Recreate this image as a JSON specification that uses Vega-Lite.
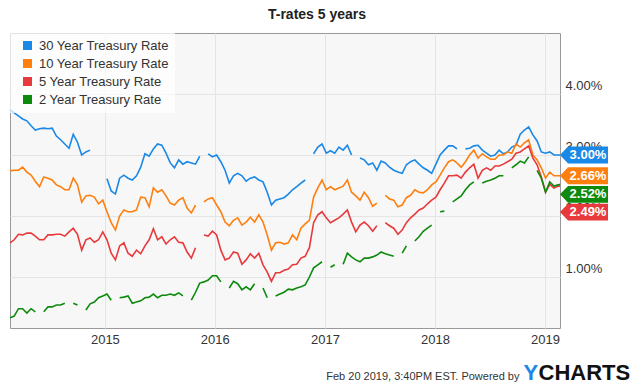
{
  "$schema": "https://vega.github.io/schema/vega-lite/v6.json",
  "width": 550,
  "height": 295,
  "autosize": {"type": "none"},
  "padding": {"left": 10, "top": 33, "right": 75, "bottom": 61},
  "background": "white",
  "title": {"text": "T-rates 5 years", "fontSize": 14, "fontWeight": "bold", "font": "Liberation Sans", "color": "#222", "anchor": "middle", "dx": 32, "dy": 10, "offset": 10, "baseline": "alphabetic"},
  "config": {
    "font": "Liberation Sans",
    "view": {"fill": "#f7f7f7", "stroke": "#999", "strokeWidth": 1}
  },
  "datasets": {
    "main": [
      {"d":"2014-02-20","a":3.74,"b":2.74,"c":1.56,"g":0.33},
      {"d":"2014-03-06","a":3.69,"b":2.75,"c":1.61,"g":0.36},
      {"d":"2014-03-20","a":3.64,"b":2.75,"c":1.70,"g":0.48},
      {"d":"2014-04-03","a":3.59,"b":2.80,"c":1.69,"g":0.48},
      {"d":"2014-04-17","a":3.56,"b":2.72,"c":1.72,"g":0.41},
      {"d":"2014-05-01","a":3.48,"b":2.67,"c":1.72,"g":0.48},
      {"d":"2014-05-15","a":3.41,"b":2.57,"c":1.67,"g":0.43},
      {"d":"2014-05-29","a":3.43,"b":2.48,"c":1.61,"g":null},
      {"d":"2014-06-12","a":3.44,"b":2.64,"c":1.61,"g":0.43},
      {"d":"2014-06-26","a":3.43,"b":2.62,"c":1.69,"g":0.51},
      {"d":"2014-07-10","a":3.44,"b":2.59,"c":1.69,"g":0.51},
      {"d":"2014-07-24","a":3.31,"b":2.51,"c":1.70,"g":0.54},
      {"d":"2014-08-07","a":3.25,"b":2.48,"c":1.70,"g":0.54},
      {"d":"2014-08-21","a":3.18,"b":2.43,"c":1.67,"g":0.57},
      {"d":"2014-09-04","a":3.11,"b":2.43,"c":1.74,"g":null},
      {"d":"2014-09-18","a":3.34,"b":2.62,"c":1.80,"g":0.57},
      {"d":"2014-10-02","a":3.21,"b":2.51,"c":1.70,"g":0.54},
      {"d":"2014-10-16","a":3.00,"b":2.23,"c":1.44,"g":null},
      {"d":"2014-10-30","a":3.05,"b":2.33,"c":1.61,"g":0.46},
      {"d":"2014-11-13","a":3.08,"b":2.34,"c":1.64,"g":0.56},
      {"d":"2014-11-27","a":null,"b":2.31,"c":1.57,"g":0.59},
      {"d":"2014-12-11","a":2.90,"b":2.20,"c":1.61,"g":0.66},
      {"d":"2014-12-25","a":null,"b":2.26,"c":1.74,"g":0.69},
      {"d":"2015-01-08","a":2.61,"b":2.07,"c":1.61,"g":0.72},
      {"d":"2015-01-22","a":2.41,"b":1.89,"c":1.39,"g":0.62},
      {"d":"2015-02-05","a":2.36,"b":1.77,"c":1.28,"g":null},
      {"d":"2015-02-19","a":2.62,"b":2.00,"c":1.51,"g":0.66},
      {"d":"2015-03-05","a":2.67,"b":2.10,"c":1.56,"g":0.67},
      {"d":"2015-03-19","a":2.62,"b":2.07,"c":1.39,"g":0.69},
      {"d":"2015-04-02","a":2.59,"b":2.07,"c":1.34,"g":0.57},
      {"d":"2015-04-16","a":2.66,"b":2.10,"c":1.44,"g":0.59},
      {"d":"2015-04-30","a":2.80,"b":2.31,"c":1.38,"g":0.61},
      {"d":"2015-05-14","a":3.02,"b":2.30,"c":1.51,"g":0.66},
      {"d":"2015-05-28","a":2.98,"b":2.15,"c":1.61,"g":0.67},
      {"d":"2015-06-11","a":3.10,"b":2.46,"c":1.79,"g":0.72},
      {"d":"2015-06-25","a":3.18,"b":2.39,"c":1.61,"g":0.66},
      {"d":"2015-07-09","a":3.16,"b":2.43,"c":1.66,"g":0.70},
      {"d":"2015-07-23","a":3.03,"b":2.33,"c":1.54,"g":0.70},
      {"d":"2015-08-06","a":2.87,"b":2.21,"c":1.61,"g":0.72},
      {"d":"2015-08-20","a":2.79,"b":2.18,"c":1.66,"g":0.70},
      {"d":"2015-09-03","a":2.92,"b":2.26,"c":1.57,"g":0.74},
      {"d":"2015-09-17","a":2.85,"b":2.30,"c":1.56,"g":0.69},
      {"d":"2015-10-01","a":2.89,"b":2.13,"c":1.41,"g":null},
      {"d":"2015-10-15","a":2.87,"b":2.05,"c":1.31,"g":0.62},
      {"d":"2015-10-29","a":2.85,"b":2.18,"c":1.48,"g":0.75},
      {"d":"2015-11-12","a":2.98,"b":null,"c":null,"g":0.90},
      {"d":"2015-11-26","a":null,"b":2.23,"c":1.69,"g":0.92},
      {"d":"2015-12-10","a":3.02,"b":2.28,"c":1.67,"g":0.95},
      {"d":"2015-12-24","a":2.97,"b":2.30,"c":1.75,"g":1.02},
      {"d":"2016-01-07","a":3.00,"b":2.18,"c":1.69,"g":1.02},
      {"d":"2016-01-21","a":2.89,"b":2.07,"c":1.44,"g":0.92},
      {"d":"2016-02-04","a":2.75,"b":1.90,"c":1.28,"g":null},
      {"d":"2016-02-18","a":2.54,"b":1.84,"c":1.31,"g":0.82},
      {"d":"2016-03-03","a":2.66,"b":1.93,"c":1.41,"g":0.93},
      {"d":"2016-03-17","a":2.70,"b":1.97,"c":1.39,"g":0.89},
      {"d":"2016-03-31","a":2.66,"b":1.85,"c":1.21,"g":0.79},
      {"d":"2016-04-14","a":2.57,"b":1.90,"c":1.28,"g":0.84},
      {"d":"2016-04-28","a":2.62,"b":1.98,"c":1.38,"g":0.79},
      {"d":"2016-05-12","a":2.64,"b":1.90,"c":1.31,"g":0.89},
      {"d":"2016-05-26","a":2.59,"b":2.02,"c":1.39,"g":null},
      {"d":"2016-06-09","a":2.56,"b":1.90,"c":1.20,"g":0.82},
      {"d":"2016-06-23","a":2.39,"b":1.69,"c":1.08,"g":0.66},
      {"d":"2016-07-07","a":2.18,"b":1.44,"c":0.93,"g":null},
      {"d":"2016-07-21","a":2.26,"b":1.56,"c":1.07,"g":0.69},
      {"d":"2016-08-04","a":2.28,"b":1.57,"c":1.07,"g":0.72},
      {"d":"2016-08-18","a":2.30,"b":1.54,"c":1.11,"g":0.75},
      {"d":"2016-09-01","a":2.36,"b":1.56,"c":1.13,"g":0.80},
      {"d":"2016-09-15","a":2.43,"b":1.69,"c":1.20,"g":0.79},
      {"d":"2016-09-29","a":2.48,"b":1.61,"c":1.21,"g":0.82},
      {"d":"2016-10-13","a":2.54,"b":1.80,"c":1.31,"g":0.84},
      {"d":"2016-10-27","a":2.59,"b":1.87,"c":1.34,"g":0.87},
      {"d":"2016-11-10","a":null,"b":1.93,"c":1.48,"g":1.00},
      {"d":"2016-11-24","a":3.02,"b":2.31,"c":1.89,"g":1.15},
      {"d":"2016-12-08","a":3.13,"b":2.46,"c":2.02,"g":1.20},
      {"d":"2016-12-22","a":3.18,"b":2.59,"c":2.07,"g":1.25},
      {"d":"2017-01-05","a":3.03,"b":2.43,"c":1.97,"g":null},
      {"d":"2017-01-19","a":3.07,"b":2.48,"c":1.89,"g":1.16},
      {"d":"2017-02-02","a":3.03,"b":2.43,"c":1.93,"g":1.20},
      {"d":"2017-02-16","a":3.13,"b":2.46,"c":1.97,"g":null},
      {"d":"2017-03-02","a":3.08,"b":2.49,"c":2.03,"g":1.21},
      {"d":"2017-03-16","a":3.16,"b":2.59,"c":2.10,"g":1.39},
      {"d":"2017-03-30","a":3.00,"b":2.39,"c":1.90,"g":1.33},
      {"d":"2017-04-13","a":null,"b":2.33,"c":1.74,"g":1.28},
      {"d":"2017-04-27","a":2.95,"b":2.26,"c":1.85,"g":1.25},
      {"d":"2017-05-11","a":2.92,"b":2.39,"c":1.90,"g":1.31},
      {"d":"2017-05-25","a":2.84,"b":2.30,"c":1.84,"g":1.31},
      {"d":"2017-06-08","a":2.87,"b":2.16,"c":1.75,"g":1.33},
      {"d":"2017-06-22","a":2.75,"b":2.21,"c":1.84,"g":1.36},
      {"d":"2017-07-06","a":2.90,"b":null,"c":null,"g":1.41},
      {"d":"2017-07-20","a":2.87,"b":2.34,"c":1.89,"g":1.38},
      {"d":"2017-08-03","a":2.80,"b":2.28,"c":1.84,"g":1.36},
      {"d":"2017-08-17","a":2.75,"b":2.26,"c":1.80,"g":1.34},
      {"d":"2017-08-31","a":2.72,"b":2.15,"c":1.70,"g":null},
      {"d":"2017-09-14","a":2.70,"b":2.18,"c":1.77,"g":1.39},
      {"d":"2017-09-28","a":2.84,"b":2.30,"c":1.89,"g":1.51},
      {"d":"2017-10-12","a":2.89,"b":2.34,"c":1.97,"g":null},
      {"d":"2017-10-26","a":2.92,"b":2.43,"c":2.03,"g":1.59},
      {"d":"2017-11-09","a":2.85,"b":2.39,"c":2.10,"g":1.66},
      {"d":"2017-11-23","a":2.79,"b":2.38,"c":2.13,"g":1.75},
      {"d":"2017-12-07","a":2.75,"b":2.43,"c":2.20,"g":1.80},
      {"d":"2017-12-21","a":2.70,"b":2.51,"c":2.26,"g":1.85},
      {"d":"2018-01-04","a":2.85,"b":2.56,"c":2.31,"g":null},
      {"d":"2018-01-18","a":3.00,"b":2.67,"c":2.43,"g":2.07},
      {"d":"2018-02-01","a":3.08,"b":2.79,"c":2.54,"g":2.08},
      {"d":"2018-02-15","a":3.15,"b":2.89,"c":2.66,"g":null},
      {"d":"2018-03-01","a":3.15,"b":2.92,"c":2.66,"g":2.23},
      {"d":"2018-03-15","a":3.10,"b":2.87,"c":2.67,"g":2.28},
      {"d":"2018-03-29","a":null,"b":2.80,"c":2.62,"g":2.33},
      {"d":"2018-04-12","a":3.10,"b":2.89,"c":2.72,"g":2.43},
      {"d":"2018-04-26","a":3.11,"b":3.00,"c":2.79,"g":2.51},
      {"d":"2018-05-10","a":3.15,"b":3.08,"c":2.85,"g":2.56},
      {"d":"2018-05-24","a":3.16,"b":2.95,"c":2.62,"g":null},
      {"d":"2018-06-07","a":3.08,"b":3.02,"c":2.75,"g":2.54},
      {"d":"2018-06-21","a":3.03,"b":2.97,"c":2.79,"g":2.57},
      {"d":"2018-07-05","a":2.98,"b":2.93,"c":2.75,"g":2.59},
      {"d":"2018-07-19","a":3.00,"b":2.93,"c":2.82,"g":2.62},
      {"d":"2018-08-02","a":3.08,"b":3.00,"c":2.82,"g":2.66},
      {"d":"2018-08-16","a":3.02,"b":3.00,"c":2.85,"g":2.66},
      {"d":"2018-08-30","a":3.05,"b":3.05,"c":2.89,"g":null},
      {"d":"2018-09-13","a":3.13,"b":3.03,"c":2.93,"g":2.79},
      {"d":"2018-09-27","a":3.16,"b":3.18,"c":3.03,"g":2.84},
      {"d":"2018-10-11","a":3.34,"b":3.13,"c":3.05,"g":2.90},
      {"d":"2018-10-25","a":3.41,"b":3.20,"c":3.10,"g":2.87},
      {"d":"2018-11-08","a":3.46,"b":3.25,"c":3.15,"g":2.97},
      {"d":"2018-11-22","a":3.33,"b":3.00,"c":2.95,"g":null},
      {"d":"2018-12-06","a":3.23,"b":2.92,"c":2.84,"g":2.75},
      {"d":"2018-12-20","a":3.05,"b":2.79,"c":2.64,"g":2.62},
      {"d":"2019-01-03","a":3.03,"b":2.62,"c":2.39,"g":2.39},
      {"d":"2019-01-17","a":3.05,"b":2.72,"c":2.52,"g":2.56},
      {"d":"2019-01-31","a":3.00,"b":2.66,"c":2.46,"g":2.49},
      {"d":"2019-02-14","a":3.00,"b":2.66,"c":2.49,"g":2.51},
      {"d":"2019-02-20","a":3.00,"b":2.66,"c":2.49,"g":2.52}
    ],
    "last": [
      {"s":"a","d":"2019-02-20","v":3.00},
      {"s":"b","d":"2019-02-20","v":2.66},
      {"s":"g","d":"2019-02-20","v":2.52},
      {"s":"c","d":"2019-02-20","v":2.49}
    ]
  },
  "resolve": {"scale": {"y": "independent"}, "axis": {"y": "independent"}},
  "layer": [
    {
      "data": {"name": "main"},
      "transform": [{"fold": ["a", "b", "c", "g"], "as": ["s", "v"]}],
      "mark": {"type": "line", "strokeWidth": 1.6, "invalid": "break-paths-show-domains"},
      "encoding": {
        "x": {
          "field": "d", "type": "temporal",
          "scale": {"type": "utc", "domain": [{"year": 2014, "month": 2, "date": 20, "utc": true}, {"year": 2019, "month": 2, "date": 20, "utc": true}]},
          "axis": {
            "values": [{"year": 2015, "month": 1, "date": 1, "utc": true}, {"year": 2016, "month": 1, "date": 1, "utc": true}, {"year": 2017, "month": 1, "date": 1, "utc": true}, {"year": 2018, "month": 1, "date": 1, "utc": true}, {"year": 2019, "month": 1, "date": 1, "utc": true}],
            "format": "%Y", "labelFontSize": 13, "labelColor": "#333", "labelPadding": 5, "ticks": false, "domain": false,
            "grid": true, "gridColor": "#e4e4e4",
            "title": "Feb 20 2019, 3:40PM EST.  Powered by", "titleFont": "Liberation Sans", "titleFontSize": 11, "titleFontWeight": "normal", "titleColor": "#333",
            "titleAlign": "right", "titleBaseline": "alphabetic", "titleX": 509, "titleY": 51
          }
        },
        "y": {
          "field": "v", "type": "quantitative",
          "scale": {"domain": [0.164, 5.0], "nice": false, "zero": false},
          "axis": {
            "orient": "right", "values": [1, 2, 3, 4], "labelExpr": "format(datum.value, '.2f') + '%'",
            "labelFontSize": 13, "labelColor": "#333", "labelPadding": 5, "labelOffset": -9, "labelBaseline": "middle",
            "ticks": false, "domain": false, "grid": true, "gridColor": "#e4e4e4",
            "title": "CHARTS", "titleAngle": 0, "titleAlign": "left", "titleBaseline": "alphabetic", "titleX": -22, "titleY": 346,
            "titleFontSize": 22, "titleFontWeight": "bold", "titleColor": "#111", "titleFont": "Liberation Sans"
          }
        },
        "color": {
          "field": "s", "type": "nominal",
          "scale": {"domain": ["a", "b", "c", "g"], "range": ["#1a88e6", "#ff7f0e", "#e8393c", "#0d8a0d"]},
          "legend": {
            "orient": "top-left", "offset": 0, "padding": 6, "title": null,
            "fillColor": "rgba(255,255,255,0.7)", "strokeColor": null,
            "symbolType": "square", "symbolSize": 81, "symbolStrokeWidth": 0, "symbolOpacity": 1, "symbolOffset": 5,
            "labelFontSize": 13, "labelColor": "#333", "labelFont": "Liberation Sans", "labelOffset": 5, "rowPadding": 4,
            "labelExpr": "datum.label == 'a' ? '30 Year Treasury Rate' : datum.label == 'b' ? '10 Year Treasury Rate' : datum.label == 'c' ? '5 Year Treasury Rate' : '2 Year Treasury Rate'"
          }
        }
      }
    },
    {
      "data": {"name": "last"},
      "transform": [{"filter": "datum.s == 'a' || datum.s == 'b'"}, {"calculate": "format(datum.v, '.2f') + '%'", "as": "lbl"}],
      "encoding": {
        "x": {"field": "d", "type": "temporal"},
        "y": {
          "field": "v", "type": "quantitative",
          "scale": {"domain": [0.164, 5.0], "nice": false, "zero": false},
          "axis": {
            "orient": "left", "labels": false, "ticks": false, "domain": false, "grid": false,
            "title": "Y", "titleAngle": 0, "titleAlign": "left", "titleBaseline": "alphabetic", "titleX": 513, "titleY": 346,
            "titleFontSize": 22, "titleFontWeight": "bold", "titleColor": "#1a88e6", "titleFont": "Liberation Sans"
          }
        },
        "color": {"field": "s", "type": "nominal", "legend": null}
      },
      "layer": [
        {"mark": {"type": "point", "shape": "M0,0L0.67,-0.7L4,-0.7L4,0.7L0.67,0.7Z", "size": 576, "filled": true, "opacity": 1, "strokeWidth": 0}},
        {"mark": {"type": "text", "dx": 28, "align": "center", "baseline": "middle", "fontSize": 13, "fontWeight": "bold"}, "encoding": {"text": {"field": "lbl"}, "color": {"value": "white"}}}
      ]
    },
    {
      "data": {"name": "last"},
      "transform": [{"filter": "datum.s == 'g'"}, {"calculate": "format(datum.v, '.2f') + '%'", "as": "lbl"}],
      "encoding": {
        "x": {"field": "d", "type": "temporal"},
        "y": {"field": "v", "type": "quantitative", "scale": {"domain": [0.164, 5.0], "nice": false, "zero": false}, "axis": null},
        "color": {"field": "s", "type": "nominal", "legend": null}
      },
      "layer": [
        {"mark": {"type": "point", "shape": "M0,0L0.67,-0.7L4,-0.7L4,0.7L0.67,0.7Z", "size": 576, "filled": true, "opacity": 1, "strokeWidth": 0, "yOffset": 10}},
        {"mark": {"type": "text", "dx": 28, "dy": 10, "align": "center", "baseline": "middle", "fontSize": 13, "fontWeight": "bold"}, "encoding": {"text": {"field": "lbl"}, "color": {"value": "white"}}}
      ]
    },
    {
      "data": {"name": "last"},
      "transform": [{"filter": "datum.s == 'c'"}, {"calculate": "format(datum.v, '.2f') + '%'", "as": "lbl"}],
      "encoding": {
        "x": {"field": "d", "type": "temporal"},
        "y": {"field": "v", "type": "quantitative", "scale": {"domain": [0.164, 5.0], "nice": false, "zero": false}, "axis": null},
        "color": {"field": "s", "type": "nominal", "legend": null}
      },
      "layer": [
        {"mark": {"type": "point", "shape": "M0,0L0.67,-0.7L4,-0.7L4,0.7L0.67,0.7Z", "size": 576, "filled": true, "opacity": 1, "strokeWidth": 0, "yOffset": 26}},
        {"mark": {"type": "text", "dx": 28, "dy": 26, "align": "center", "baseline": "middle", "fontSize": 13, "fontWeight": "bold"}, "encoding": {"text": {"field": "lbl"}, "color": {"value": "white"}}}
      ]
    }
  ]
}
